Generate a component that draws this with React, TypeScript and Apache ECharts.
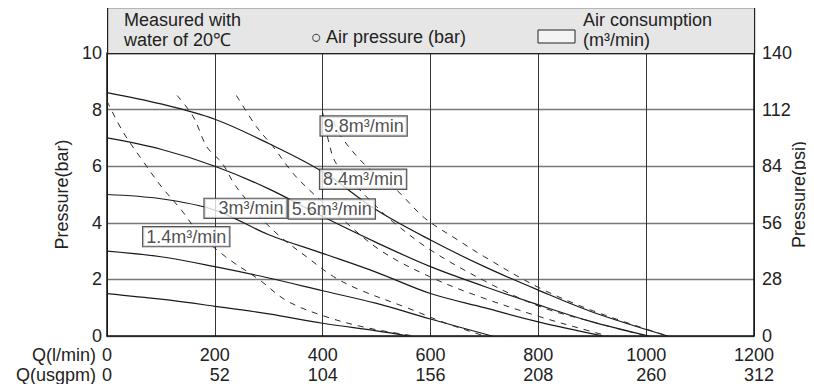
import React, { useEffect, useRef } from 'react';
import * as echarts from 'echarts';

// Axis ticks
const qTicks = [0, 200, 400, 600, 800, 1000, 1200];
const usgpmTicks = ['0', '52', '104', '156', '208', '260', '312'];
const barTicks = [0, 2, 4, 6, 8, 10];
const psiTicks = [0, 28, 56, 84, 112, 140];

// Solid curves: discharge pressure (bar) vs flow (l/min) at several air pressures
const curve1 = [[0, 8.6], [100, 8.2], [200, 7.66], [300, 6.8], [400, 5.8], [500, 4.45], [600, 3.39], [700, 2.45], [800, 1.62], [900, 0.85], [1040, 0]];
const curve2 = [[0, 7.0], [100, 6.6], [200, 6.0], [300, 5.2], [400, 4.22], [500, 3.3], [600, 2.45], [700, 1.75], [800, 1.1], [900, 0.5], [1005, 0]];
const curve3 = [[0, 5.0], [100, 4.85], [200, 4.45], [300, 3.58], [400, 2.92], [500, 2.25], [600, 1.5], [700, 1.0], [800, 0.5], [920, 0]];
const curve4 = [[0, 3.0], [100, 2.8], [200, 2.45], [300, 2.05], [400, 1.6], [500, 1.15], [600, 0.6], [714, 0]];
const curve5 = [[0, 1.5], [100, 1.3], [200, 1.05], [300, 0.78], [400, 0.45], [500, 0.18], [560, 0]];

// Dashed curves: air consumption (m³/min)
const air14 = [[0, 8.3], [30, 7.2], [66, 6.2], [100, 5.3], [138, 4.45], [172, 3.6], [220, 2.8], [283, 1.98], [333, 1.25], [400, 0.72], [480, 0.3], [570, 0]];
const air30 = [[130, 8.5], [160, 7.75], [185, 6.69], [214, 6.1], [235, 5.4], [259, 4.8], [284, 4.2], [322, 3.5], [370, 2.8], [420, 2.1], [469, 1.63], [556, 1.0], [629, 0.45], [700, 0]];
const air56 = [[240, 8.5], [277, 7.4], [308, 6.69], [345, 5.75], [382, 5.04], [420, 4.4], [506, 3.04], [598, 2.1], [691, 1.39], [803, 0.68], [900, 0.15], [930, 0]];
const air84 = [[400, 7.9], [412, 6.8], [425, 6.1], [469, 5.16], [500, 4.57], [530, 4.04], [600, 3.04], [700, 1.95], [800, 1.06], [900, 0.5], [1000, 0]];
const air98 = [[420, 7.6], [432, 7.1], [481, 6.0], [537, 5.16], [589, 4.17], [650, 3.4], [700, 2.8], [800, 1.72], [900, 0.9], [1040, 0]];

// Air consumption labels (anchor = box centre, in data units)
const airLabelNames = ['9.8m³/min', '8.4m³/min', '5.6m³/min', '3m³/min', '1.4m³/min'];
const airLabelPos = [[476, 7.42], [475, 5.54], [417, 4.49], [257, 4.51], [147, 3.51]];

const FONT = 'Liberation Sans, Arial, Helvetica, sans-serif';
const TXT = '#222';
const FS = 18;

export default function App() {
  const ref = useRef<HTMLDivElement>(null);
  useEffect(() => {
    if (!ref.current) return;
    const chart = echarts.init(ref.current, undefined, { renderer: 'svg' });
    const solid = (d: number[][]) => ({
      type: 'line', data: d, smooth: 0.35, symbol: 'none', silent: true,
      lineStyle: { color: '#1a1a1a', width: 1.2 }, yAxisIndex: 0,
    });
    const dashed = (d: number[][]) => ({
      type: 'line', data: d, smooth: 0.35, symbol: 'none', silent: true,
      lineStyle: { color: '#2a2a2a', width: 1, type: [6, 6] }, yAxisIndex: 0,
    });
    const labelData = airLabelNames.map((n, i) => ({
      name: n, value: airLabelPos[i],
      label: i === 3 ? { padding: [1, 3, 0, 14] } : undefined,
    }));
    chart.setOption({
      animation: false,
      grid: { left: 107, right: 60, top: 53, bottom: 56, containLabel: false, outerBoundsMode: 'none' },
      xAxis: {
        type: 'value', min: 0, max: 1200, interval: 200,
        axisLine: { show: true, lineStyle: { color: '#111', width: 1.5 } },
        axisTick: { show: false },
        splitLine: { show: true, lineStyle: { color: '#333', width: 1 } },
        axisLabel: {
          margin: 9, color: TXT, fontFamily: FONT, fontSize: FS, lineHeight: 20,
          formatter: (v: number) => {
            const i = qTicks.indexOf(v);
            return `{a|${v}}\n{b|${usgpmTicks[i] ?? ''}}`;
          },
          rich: {
            a: { align: 'right', fontSize: FS, lineHeight: 20, color: TXT, fontFamily: FONT },
            b: { align: 'right', fontSize: FS, lineHeight: 20, color: TXT, fontFamily: FONT },
          },
        },
      },
      yAxis: [
        {
          type: 'value', min: 0, max: 10, interval: 2, position: 'left',
          name: 'Pressure(bar)', nameLocation: 'middle', nameGap: 36, nameRotate: 90, nameMoveOverlap: false,
          nameTextStyle: { color: TXT, fontFamily: FONT, fontSize: FS },
          axisLine: { show: true, lineStyle: { color: '#111', width: 1.5 } },
          axisTick: { show: false },
          splitLine: { show: true, lineStyle: { color: '#777', width: 1.4 } },
          axisLabel: {
            margin: 5, color: TXT, fontFamily: FONT, fontSize: FS,
            formatter: (v: number) => (barTicks.includes(v) ? String(v) : ''),
          },
        },
        {
          type: 'value', min: 0, max: 140, interval: 28, position: 'right',
          name: 'Pressure(psi)', nameLocation: 'middle', nameGap: 36, nameRotate: 90, nameMoveOverlap: false,
          nameTextStyle: { color: TXT, fontFamily: FONT, fontSize: FS },
          axisLine: { show: true, lineStyle: { color: '#111', width: 1.5 } },
          axisTick: { show: false },
          splitLine: { show: false },
          axisLabel: {
            margin: 8, color: TXT, fontFamily: FONT, fontSize: FS,
            formatter: (v: number) => (psiTicks.includes(v) ? String(v) : ''),
          },
        },
      ],
      series: [
        solid(curve1), solid(curve2), solid(curve3), solid(curve4), solid(curve5),
        dashed(air14), dashed(air30), dashed(air56), dashed(air84), dashed(air98),
        {
          type: 'scatter', data: labelData, symbolSize: 1, silent: true, z: 10,
          itemStyle: { color: 'rgba(0,0,0,0)' },
          label: {
            show: true, position: 'inside', formatter: '{b}',
            color: TXT, fontFamily: FONT, fontSize: FS,
            backgroundColor: '#fff', borderColor: '#2a2a2a', borderWidth: 1.2,
            padding: [1, 3, 0, 3],
          },
        },
      ],
      graphic: [
        {
          type: 'rect', left: 107, top: 7, silent: true, z: 5,
          shape: { width: 647, height: 46 },
          style: { fill: '#e6e6e6', stroke: '#222', lineWidth: 1.2 },
        },
        { type: 'text', x: 124, y: 19.5, silent: true, z: 6, style: { text: 'Measured with', fill: TXT, font: `${FS}px ${FONT}`, verticalAlign: 'middle' } },
        { type: 'text', x: 124, y: 39.5, silent: true, z: 6, style: { text: 'water of 20℃', fill: TXT, font: `${FS}px ${FONT}`, verticalAlign: 'middle' } },
        { type: 'text', x: 311, y: 37, silent: true, z: 6, style: { text: '○ Air pressure (bar)', fill: TXT, font: `${FS}px ${FONT}`, verticalAlign: 'middle' } },
        {
          type: 'rect', x: 538, y: 30, silent: true, z: 6,
          shape: { width: 37, height: 13 },
          style: { fill: '#f4f4f4', stroke: '#222', lineWidth: 1 },
        },
        { type: 'text', x: 583, y: 19.5, silent: true, z: 6, style: { text: 'Air consumption', fill: TXT, font: `${FS}px ${FONT}`, verticalAlign: 'middle' } },
        { type: 'text', x: 583, y: 39.5, silent: true, z: 6, style: { text: '(m³/min)', fill: TXT, font: `${FS}px ${FONT}`, verticalAlign: 'middle' } },
        { type: 'text', x: 96, y: 355, silent: true, style: { text: 'Q(l/min)', fill: TXT, font: `${FS}px ${FONT}`, align: 'right', verticalAlign: 'middle' } },
        { type: 'text', x: 96, y: 375, silent: true, style: { text: 'Q(usgpm)', fill: TXT, font: `${FS}px ${FONT}`, align: 'right', verticalAlign: 'middle' } },
      ],
    });
    return () => chart.dispose();
  }, []);
  return <div ref={ref} style={{ width: 814, height: 392, margin: -8 }} />;
}
